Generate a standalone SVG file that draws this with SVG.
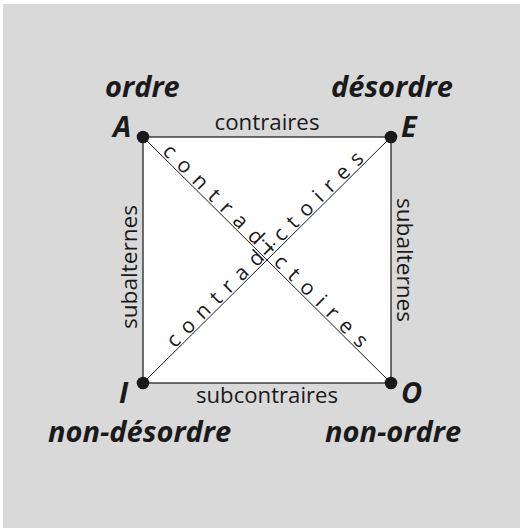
<svg xmlns="http://www.w3.org/2000/svg" width="523" height="531" viewBox="0 0 523 531">
<style>
.bg{fill:#d9d9d9}
.sq{fill:#ffffff;stroke:#333333;stroke-width:1.4}
.diag{stroke:#1a1a1a;stroke-width:1;fill:none}
.dot{fill:#1a1a1a}
.lbl{font-family:"Open Sans","Noto Sans",sans-serif;font-weight:bold;font-style:italic;font-size:29px;fill:#1a1a1a}
.rel{font-family:"Open Sans","Noto Sans",sans-serif;font-size:21px;fill:#1a1a1a}
.dg{font-family:"Open Sans","Noto Sans",sans-serif;font-size:21px;fill:#1a1a1a}
</style>
<rect class="bg" x="3" y="4" width="517" height="524"/>
<g id="square">
<rect class="sq" x="143" y="137" width="248" height="246"/>
</g>
<g id="connectors">
<line class="diag" x1="143" y1="137" x2="391" y2="383"/>
<line class="diag" x1="143" y1="383" x2="391" y2="137"/>
<text class="rel" x="267" y="130" text-anchor="middle" textLength="105" lengthAdjust="spacingAndGlyphs">contraires</text>
<text class="rel" x="267" y="403" text-anchor="middle" textLength="142" lengthAdjust="spacingAndGlyphs">subcontraires</text>
<text class="rel" transform="translate(137,267) rotate(-90)" x="0" y="0" text-anchor="middle" textLength="124" lengthAdjust="spacingAndGlyphs">subalternes</text>
<text class="rel" transform="translate(397,260) rotate(90)" x="0" y="0" text-anchor="middle" textLength="124" lengthAdjust="spacingAndGlyphs">subalternes</text>
<text class="dg" transform="translate(267,260) rotate(-44.77)" x="6" y="-2" text-anchor="middle" textLength="268" lengthAdjust="spacing">contradictoires</text>
<text class="dg" transform="translate(267,260) rotate(44.77)" x="-11" y="-2" text-anchor="middle" textLength="279" lengthAdjust="spacing">contradictoires</text>
</g>
<g id="A">
<circle class="dot" cx="143" cy="137" r="6.3"/>
<text class="lbl" x="113" y="137">A</text>
<text class="lbl" x="105" y="97">ordre</text>
</g>
<g id="E">
<circle class="dot" cx="391" cy="137" r="6.3"/>
<text class="lbl" x="401" y="137">E</text>
<text class="lbl" x="331" y="97">désordre</text>
</g>
<g id="I">
<circle class="dot" cx="143" cy="383" r="6.3"/>
<text class="lbl" x="119" y="403">I</text>
<text class="lbl" x="48" y="442">non-désordre</text>
</g>
<g id="O">
<circle class="dot" cx="391" cy="383" r="6.3"/>
<text class="lbl" x="401" y="403">O</text>
<text class="lbl" x="325" y="442">non-ordre</text>
</g>
</svg>
